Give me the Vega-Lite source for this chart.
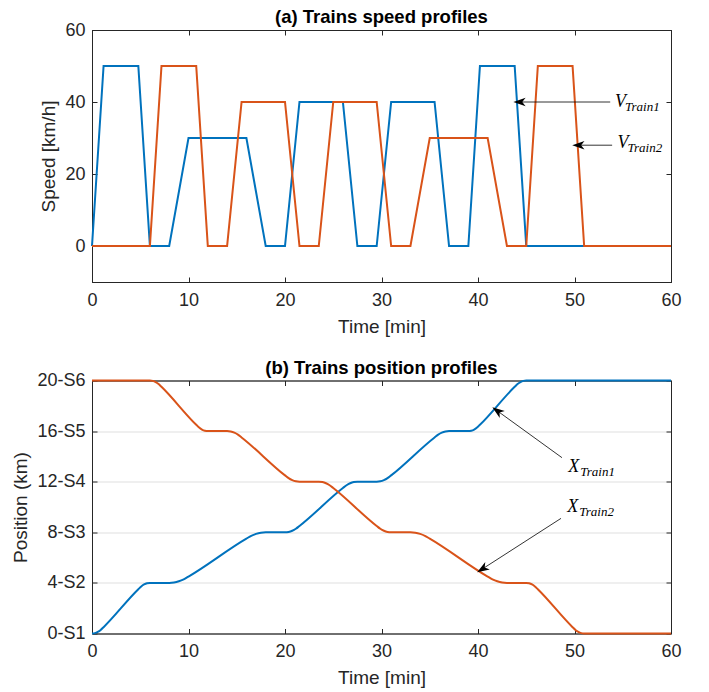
{
  "$schema": "https://vega.github.io/schema/vega-lite/v6.json",
  "padding": {"left": 11, "top": 7, "right": 5, "bottom": 0},
  "config": {
    "font": "Liberation Sans",
    "view": {"stroke": "#262626", "strokeWidth": 1},
    "axis": {"domainColor": "#262626", "tickColor": "#262626", "labelColor": "#262626", "titleColor": "#262626", "labelFontSize": 18, "titleFontSize": 19, "titleFontWeight": "normal", "tickSize": -5, "labelPadding": 12, "grid": false, "labelFont": "Liberation Sans", "titleFont": "Liberation Sans", "titlePadding": 6, "labelFlush": false},
    "axisX": {"labelPadding": 14, "titlePadding": 8},
    "title": {"fontSize": 18.5, "fontWeight": "bold", "color": "#000000", "offset": -5.5, "font": "Liberation Sans"},
    "concat": {"spacing": 20.5}
  },
  "datasets": {
    "speed": [
      {"s":"Train1","t":0,"v":0},{"s":"Train1","t":1.2,"v":50},{"s":"Train1","t":4.8,"v":50},{"s":"Train1","t":6,"v":0},{"s":"Train1","t":8,"v":0},{"s":"Train1","t":10,"v":30},{"s":"Train1","t":16,"v":30},{"s":"Train1","t":18,"v":0},{"s":"Train1","t":20,"v":0},{"s":"Train1","t":21.5,"v":40},{"s":"Train1","t":26,"v":40},{"s":"Train1","t":27.5,"v":0},{"s":"Train1","t":29.5,"v":0},{"s":"Train1","t":31,"v":40},{"s":"Train1","t":35.5,"v":40},{"s":"Train1","t":37,"v":0},{"s":"Train1","t":39,"v":0},{"s":"Train1","t":40.2,"v":50},{"s":"Train1","t":43.8,"v":50},{"s":"Train1","t":45,"v":0},{"s":"Train1","t":60,"v":0},
      {"s":"Train2","t":0,"v":0},{"s":"Train2","t":6,"v":0},{"s":"Train2","t":7.2,"v":50},{"s":"Train2","t":10.8,"v":50},{"s":"Train2","t":12,"v":0},{"s":"Train2","t":14,"v":0},{"s":"Train2","t":15.5,"v":40},{"s":"Train2","t":20,"v":40},{"s":"Train2","t":21.5,"v":0},{"s":"Train2","t":23.5,"v":0},{"s":"Train2","t":25,"v":40},{"s":"Train2","t":29.5,"v":40},{"s":"Train2","t":31,"v":0},{"s":"Train2","t":33,"v":0},{"s":"Train2","t":35,"v":30},{"s":"Train2","t":41,"v":30},{"s":"Train2","t":43,"v":0},{"s":"Train2","t":45,"v":0},{"s":"Train2","t":46.2,"v":50},{"s":"Train2","t":49.8,"v":50},{"s":"Train2","t":51,"v":0},{"s":"Train2","t":60,"v":0}
    ],
    "position": [
      {"s":"Train1","t":0,"x":0},{"s":"Train1","t":0.3,"x":0.031},{"s":"Train1","t":0.6,"x":0.125},{"s":"Train1","t":0.9,"x":0.281},{"s":"Train1","t":1.2,"x":0.5},{"s":"Train1","t":4.8,"x":3.5},{"s":"Train1","t":5.1,"x":3.719},{"s":"Train1","t":5.4,"x":3.875},{"s":"Train1","t":5.7,"x":3.969},{"s":"Train1","t":6,"x":4},
      {"s":"Train1","t":8,"x":4},{"s":"Train1","t":8.5,"x":4.031},{"s":"Train1","t":9,"x":4.125},{"s":"Train1","t":9.5,"x":4.281},{"s":"Train1","t":10,"x":4.5},{"s":"Train1","t":16,"x":7.5},{"s":"Train1","t":16.5,"x":7.719},{"s":"Train1","t":17,"x":7.875},{"s":"Train1","t":17.5,"x":7.969},{"s":"Train1","t":18,"x":8},
      {"s":"Train1","t":20,"x":8},{"s":"Train1","t":20.375,"x":8.031},{"s":"Train1","t":20.75,"x":8.125},{"s":"Train1","t":21.125,"x":8.281},{"s":"Train1","t":21.5,"x":8.5},{"s":"Train1","t":26,"x":11.5},{"s":"Train1","t":26.375,"x":11.719},{"s":"Train1","t":26.75,"x":11.875},{"s":"Train1","t":27.125,"x":11.969},{"s":"Train1","t":27.5,"x":12},
      {"s":"Train1","t":29.5,"x":12},{"s":"Train1","t":29.875,"x":12.031},{"s":"Train1","t":30.25,"x":12.125},{"s":"Train1","t":30.625,"x":12.281},{"s":"Train1","t":31,"x":12.5},{"s":"Train1","t":35.5,"x":15.5},{"s":"Train1","t":35.875,"x":15.719},{"s":"Train1","t":36.25,"x":15.875},{"s":"Train1","t":36.625,"x":15.969},{"s":"Train1","t":37,"x":16},
      {"s":"Train1","t":39,"x":16},{"s":"Train1","t":39.3,"x":16.031},{"s":"Train1","t":39.6,"x":16.125},{"s":"Train1","t":39.9,"x":16.281},{"s":"Train1","t":40.2,"x":16.5},{"s":"Train1","t":43.8,"x":19.5},{"s":"Train1","t":44.1,"x":19.719},{"s":"Train1","t":44.4,"x":19.875},{"s":"Train1","t":44.7,"x":19.969},{"s":"Train1","t":45,"x":20},{"s":"Train1","t":60,"x":20},
      {"s":"Train2","t":0,"x":20},{"s":"Train2","t":6,"x":20},{"s":"Train2","t":6.3,"x":19.969},{"s":"Train2","t":6.6,"x":19.875},{"s":"Train2","t":6.9,"x":19.719},{"s":"Train2","t":7.2,"x":19.5},{"s":"Train2","t":10.8,"x":16.5},{"s":"Train2","t":11.1,"x":16.281},{"s":"Train2","t":11.4,"x":16.125},{"s":"Train2","t":11.7,"x":16.031},{"s":"Train2","t":12,"x":16},
      {"s":"Train2","t":14,"x":16},{"s":"Train2","t":14.375,"x":15.969},{"s":"Train2","t":14.75,"x":15.875},{"s":"Train2","t":15.125,"x":15.719},{"s":"Train2","t":15.5,"x":15.5},{"s":"Train2","t":20,"x":12.5},{"s":"Train2","t":20.375,"x":12.281},{"s":"Train2","t":20.75,"x":12.125},{"s":"Train2","t":21.125,"x":12.031},{"s":"Train2","t":21.5,"x":12},
      {"s":"Train2","t":23.5,"x":12},{"s":"Train2","t":23.875,"x":11.969},{"s":"Train2","t":24.25,"x":11.875},{"s":"Train2","t":24.625,"x":11.719},{"s":"Train2","t":25,"x":11.5},{"s":"Train2","t":29.5,"x":8.5},{"s":"Train2","t":29.875,"x":8.281},{"s":"Train2","t":30.25,"x":8.125},{"s":"Train2","t":30.625,"x":8.031},{"s":"Train2","t":31,"x":8},
      {"s":"Train2","t":33,"x":8},{"s":"Train2","t":33.5,"x":7.969},{"s":"Train2","t":34,"x":7.875},{"s":"Train2","t":34.5,"x":7.719},{"s":"Train2","t":35,"x":7.5},{"s":"Train2","t":41,"x":4.5},{"s":"Train2","t":41.5,"x":4.281},{"s":"Train2","t":42,"x":4.125},{"s":"Train2","t":42.5,"x":4.031},{"s":"Train2","t":43,"x":4},
      {"s":"Train2","t":45,"x":4},{"s":"Train2","t":45.3,"x":3.969},{"s":"Train2","t":45.6,"x":3.875},{"s":"Train2","t":45.9,"x":3.719},{"s":"Train2","t":46.2,"x":3.5},{"s":"Train2","t":49.8,"x":0.5},{"s":"Train2","t":50.1,"x":0.281},{"s":"Train2","t":50.4,"x":0.125},{"s":"Train2","t":50.7,"x":0.031},{"s":"Train2","t":51,"x":0},{"s":"Train2","t":60,"x":0}
    ],
    "arrowsA": [
      {"id":"V1","x1":53.7,"y1":40,"x2":44.3,"y2":40},
      {"id":"V2","x1":53.9,"y1":28,"x2":50.4,"y2":28}
    ],
    "labelsA": [
      {"main":"V","sub":"Train1","x":54.2,"y":40},
      {"main":"V","sub":"Train2","x":54.45,"y":28.5}
    ],
    "arrowsB": [
      {"id":"X1","x1":48.7,"y1":13.9,"x2":42.0,"y2":17.6},
      {"id":"X2","x1":48.6,"y1":9.1,"x2":40.45,"y2":5.1}
    ],
    "labelsB": [
      {"main":"X","sub":"Train1","x":49.35,"y":13.2},
      {"main":"X","sub":"Train2","x":49.25,"y":10.0}
    ]
  },
  "vconcat": [
    {
      "width": 579,
      "height": 252,
      "title": "(a) Trains speed profiles",
      "layer": [
        {
          "data": {"name": "speed"},
          "mark": {"type": "line", "strokeWidth": 2},
          "encoding": {
            "x": {"field": "t", "type": "quantitative", "scale": {"domain": [0, 60], "nice": false}, "axis": {"title": "Time [min]", "grid": false, "values": [0,10,20,30,40,50,60]}},
            "y": {"field": "v", "type": "quantitative", "scale": {"domain": [-10, 60], "nice": false}, "axis": {"title": "Speed [km/h]", "grid": false, "values": [0,20,40,60]}},
            "color": {"field": "s", "type": "nominal", "scale": {"domain": ["Train1","Train2"], "range": ["#0072BD","#D95319"]}, "legend": null}
          }
        },
        {
          "data": {"name": "speed"},
          "mark": {"type": "point", "opacity": 0},
          "encoding": {
            "x": {"field": "t", "type": "quantitative", "axis": {"orient": "top", "labels": false, "title": null, "grid": false, "values": [0,10,20,30,40,50,60]}},
            "y": {"field": "v", "type": "quantitative", "axis": {"orient": "right", "labels": false, "title": null, "grid": false, "values": [0,20,40,60]}}
          }
        },
        {
          "data": {"name": "arrowsA"},
          "mark": {"type": "rule", "color": "#000000", "strokeWidth": 0.8},
          "encoding": {
            "x": {"field": "x1", "type": "quantitative", "axis": null},
            "x2": {"field": "x2"},
            "y": {"field": "y1", "type": "quantitative", "axis": null},
            "y2": {"field": "y2"}
          }
        },
        {
          "data": {"name": "arrowsA"},
          "mark": {"type": "point", "shape": "M1,0 L-1,-0.7 L-0.45,0 L-1,0.7 Z", "filled": true, "color": "#000000", "opacity": 1, "size": 150, "angle": 180},
          "encoding": {
            "x": {"field": "x2", "type": "quantitative", "axis": null},
            "y": {"field": "y2", "type": "quantitative", "axis": null}
          }
        },
        {
          "data": {"name": "labelsA"},
          "mark": {"type": "text", "align": "left", "baseline": "middle", "font": "Liberation Serif", "fontStyle": "italic", "fontSize": 18, "color": "#000000"},
          "encoding": {
            "x": {"field": "x", "type": "quantitative", "axis": null},
            "y": {"field": "y", "type": "quantitative", "axis": null},
            "text": {"field": "main"}
          }
        },
        {
          "data": {"name": "labelsA"},
          "mark": {"type": "text", "align": "left", "baseline": "middle", "font": "Liberation Serif", "fontStyle": "italic", "fontSize": 13, "color": "#000000", "dx": 10, "dy": 5},
          "encoding": {
            "x": {"field": "x", "type": "quantitative", "axis": null},
            "y": {"field": "y", "type": "quantitative", "axis": null},
            "text": {"field": "sub"}
          }
        }
      ],
      "resolve": {"axis": {"x": "independent", "y": "independent"}}
    },
    {
      "width": 579,
      "height": 253,
      "title": "(b) Trains position profiles",
      "layer": [
        {
          "data": {"name": "position"},
          "mark": {"type": "line", "strokeWidth": 2, "interpolate": "monotone"},
          "encoding": {
            "x": {"field": "t", "type": "quantitative", "scale": {"domain": [0, 60], "nice": false}, "axis": {"title": "Time [min]", "grid": false, "values": [0,10,20,30,40,50,60]}},
            "y": {"field": "x", "type": "quantitative", "scale": {"domain": [0, 20], "nice": false}, "axis": {"title": "Position (km)", "values": [0,4,8,12,16,20], "grid": true, "gridColor": "#dfdfdf", "labelExpr": "datum.value + '-S' + (datum.value / 4 + 1)"}},
            "color": {"field": "s", "type": "nominal", "scale": {"domain": ["Train1","Train2"], "range": ["#0072BD","#D95319"]}, "legend": null}
          }
        },
        {
          "data": {"name": "position"},
          "mark": {"type": "point", "opacity": 0},
          "encoding": {
            "x": {"field": "t", "type": "quantitative", "axis": {"orient": "top", "labels": false, "title": null, "grid": false, "values": [0,10,20,30,40,50,60]}},
            "y": {"field": "x", "type": "quantitative", "axis": {"orient": "right", "labels": false, "title": null, "grid": false, "values": [0,4,8,12,16,20]}}
          }
        },
        {
          "data": {"name": "arrowsB"},
          "mark": {"type": "rule", "color": "#000000", "strokeWidth": 0.8},
          "encoding": {
            "x": {"field": "x1", "type": "quantitative", "axis": null},
            "x2": {"field": "x2"},
            "y": {"field": "y1", "type": "quantitative", "axis": null},
            "y2": {"field": "y2"}
          }
        },
        {
          "data": {"name": "arrowsB"},
          "transform": [{"filter": "datum.id == 'X1'"}],
          "mark": {"type": "point", "shape": "M1,0 L-1,-0.7 L-0.45,0 L-1,0.7 Z", "filled": true, "color": "#000000", "opacity": 1, "size": 150, "angle": 216},
          "encoding": {
            "x": {"field": "x2", "type": "quantitative", "axis": null},
            "y": {"field": "y2", "type": "quantitative", "axis": null}
          }
        },
        {
          "data": {"name": "arrowsB"},
          "transform": [{"filter": "datum.id == 'X2'"}],
          "mark": {"type": "point", "shape": "M1,0 L-1,-0.7 L-0.45,0 L-1,0.7 Z", "filled": true, "color": "#000000", "opacity": 1, "size": 150, "angle": 148},
          "encoding": {
            "x": {"field": "x2", "type": "quantitative", "axis": null},
            "y": {"field": "y2", "type": "quantitative", "axis": null}
          }
        },
        {
          "data": {"name": "labelsB"},
          "mark": {"type": "text", "align": "left", "baseline": "middle", "font": "Liberation Serif", "fontStyle": "italic", "fontSize": 18, "color": "#000000"},
          "encoding": {
            "x": {"field": "x", "type": "quantitative", "axis": null},
            "y": {"field": "y", "type": "quantitative", "axis": null},
            "text": {"field": "main"}
          }
        },
        {
          "data": {"name": "labelsB"},
          "mark": {"type": "text", "align": "left", "baseline": "middle", "font": "Liberation Serif", "fontStyle": "italic", "fontSize": 13, "color": "#000000", "dx": 12, "dy": 5},
          "encoding": {
            "x": {"field": "x", "type": "quantitative", "axis": null},
            "y": {"field": "y", "type": "quantitative", "axis": null},
            "text": {"field": "sub"}
          }
        }
      ],
      "resolve": {"axis": {"x": "independent", "y": "independent"}}
    }
  ]
}
